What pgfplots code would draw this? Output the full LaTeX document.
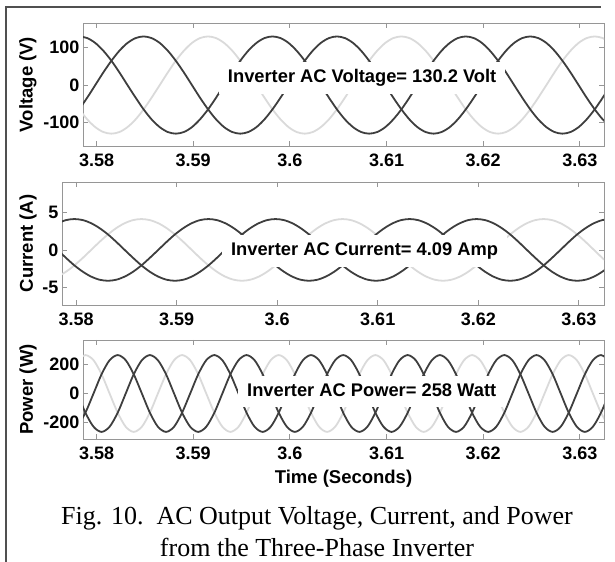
\documentclass[border=0pt]{standalone}
\usepackage{fontspec}
\setmainfont{Liberation Sans}
\newfontfamily\capfont{Liberation Serif}
\usepackage{pgfplots}
\pgfplotsset{compat=1.18}
\usepackage{pgfplotstable}

\definecolor{darkc}{RGB}{62,62,62}
\definecolor{lightc}{RGB}{218,218,218}
\definecolor{boxc}{RGB}{150,150,150}
\definecolor{framec}{RGB}{80,80,80}

% voltage: a, b dark; c light
\pgfplotstableread{
t a b c
3.57820 130 -65 -65
3.57904 125.6 -33.6 -91.9
3.57987 112.6 0 -112.6
3.58070 91.9 33.6 -125.6
3.58154 65 65 -130
3.58237 33.6 91.9 -125.6
3.58320 0 112.6 -112.6
3.58404 -33.6 125.6 -91.9
3.58487 -65 130 -65
3.58570 -91.9 125.6 -33.6
3.58654 -112.6 112.6 0
3.58737 -125.6 91.9 33.6
3.58820 -130 65 65
3.58904 -125.6 33.6 91.9
3.58987 -112.6 0 112.6
3.59070 -91.9 -33.6 125.6
3.59154 -65 -65 130
3.59237 -33.6 -91.9 125.6
3.59320 0 -112.6 112.6
3.59404 33.6 -125.6 91.9
3.59487 65 -130 65
3.59570 91.9 -125.6 33.6
3.59654 112.6 -112.6 0
3.59737 125.6 -91.9 -33.6
3.59820 130 -65 -65
3.59904 125.6 -33.6 -91.9
3.59987 112.6 0 -112.6
3.60070 91.9 33.6 -125.6
3.60154 65 65 -130
3.60237 33.6 91.9 -125.6
3.60320 0 112.6 -112.6
3.60404 -33.6 125.6 -91.9
3.60487 -65 130 -65
3.60570 -91.9 125.6 -33.6
3.60654 -112.6 112.6 0
3.60737 -125.6 91.9 33.6
3.60820 -130 65 65
3.60904 -125.6 33.6 91.9
3.60987 -112.6 0 112.6
3.61070 -91.9 -33.6 125.6
3.61154 -65 -65 130
3.61237 -33.6 -91.9 125.6
3.61320 0 -112.6 112.6
3.61404 33.6 -125.6 91.9
3.61487 65 -130 65
3.61570 91.9 -125.6 33.6
3.61654 112.6 -112.6 0
3.61737 125.6 -91.9 -33.6
3.61820 130 -65 -65
3.61904 125.6 -33.6 -91.9
3.61987 112.6 0 -112.6
3.62070 91.9 33.6 -125.6
3.62154 65 65 -130
3.62237 33.6 91.9 -125.6
3.62320 0 112.6 -112.6
3.62404 -33.6 125.6 -91.9
3.62487 -65 130 -65
3.62570 -91.9 125.6 -33.6
3.62654 -112.6 112.6 0
3.62737 -125.6 91.9 33.6
3.62820 -130 65 65
3.62904 -125.6 33.6 91.9
3.62987 -112.6 0 112.6
3.63070 -91.9 -33.6 125.6
3.63154 -65 -65 130
3.63237 -33.6 -91.9 125.6
3.63320 0 -112.6 112.6
}\voltdata

% current: a, c dark; b light
\pgfplotstableread{
t a b c
3.57817 3.54 -3.54 0
3.57900 3.95 -2.89 -1.06
3.57983 4.09 -2.05 -2.05
3.58067 3.95 -1.06 -2.89
3.58150 3.54 0 -3.54
3.58233 2.89 1.06 -3.95
3.58317 2.05 2.05 -4.09
3.58400 1.06 2.89 -3.95
3.58483 0 3.54 -3.54
3.58567 -1.06 3.95 -2.89
3.58650 -2.05 4.09 -2.05
3.58733 -2.89 3.95 -1.06
3.58817 -3.54 3.54 0
3.58900 -3.95 2.89 1.06
3.58983 -4.09 2.05 2.05
3.59067 -3.95 1.06 2.89
3.59150 -3.54 0 3.54
3.59233 -2.89 -1.06 3.95
3.59317 -2.05 -2.05 4.09
3.59400 -1.06 -2.89 3.95
3.59483 0 -3.54 3.54
3.59567 1.06 -3.95 2.89
3.59650 2.05 -4.09 2.05
3.59733 2.89 -3.95 1.06
3.59817 3.54 -3.54 0
3.59900 3.95 -2.89 -1.06
3.59983 4.09 -2.05 -2.05
3.60067 3.95 -1.06 -2.89
3.60150 3.54 0 -3.54
3.60233 2.89 1.06 -3.95
3.60317 2.05 2.05 -4.09
3.60400 1.06 2.89 -3.95
3.60483 0 3.54 -3.54
3.60567 -1.06 3.95 -2.89
3.60650 -2.05 4.09 -2.05
3.60733 -2.89 3.95 -1.06
3.60817 -3.54 3.54 0
3.60900 -3.95 2.89 1.06
3.60983 -4.09 2.05 2.05
3.61067 -3.95 1.06 2.89
3.61150 -3.54 0 3.54
3.61233 -2.89 -1.06 3.95
3.61317 -2.05 -2.05 4.09
3.61400 -1.06 -2.89 3.95
3.61483 0 -3.54 3.54
3.61567 1.06 -3.95 2.89
3.61650 2.05 -4.09 2.05
3.61733 2.89 -3.95 1.06
3.61817 3.54 -3.54 0
3.61900 3.95 -2.89 -1.06
3.61983 4.09 -2.05 -2.05
3.62067 3.95 -1.06 -2.89
3.62150 3.54 0 -3.54
3.62233 2.89 1.06 -3.95
3.62317 2.05 2.05 -4.09
3.62400 1.06 2.89 -3.95
3.62483 0 3.54 -3.54
3.62567 -1.06 3.95 -2.89
3.62650 -2.05 4.09 -2.05
3.62733 -2.89 3.95 -1.06
3.62817 -3.54 3.54 0
3.62900 -3.95 2.89 1.06
3.62983 -4.09 2.05 2.05
3.63067 -3.95 1.06 2.89
3.63150 -3.54 0 3.54
3.63233 -2.89 -1.06 3.95
3.63317 -2.05 -2.05 4.09
}\currdata

% power: a, c dark; b light
\pgfplotstableread{
t a b c
3.57802 0 229.5 -229.5
3.57885 -132.5 265 -132.5
3.57969 -229.5 229.5 0
3.58052 -265 132.5 132.5
3.58135 -229.5 0 229.5
3.58219 -132.5 -132.5 265
3.58302 0 -229.5 229.5
3.58385 132.5 -265 132.5
3.58469 229.5 -229.5 0
3.58552 265 -132.5 -132.5
3.58635 229.5 0 -229.5
3.58719 132.5 132.5 -265
3.58802 0 229.5 -229.5
3.58885 -132.5 265 -132.5
3.58969 -229.5 229.5 0
3.59052 -265 132.5 132.5
3.59135 -229.5 0 229.5
3.59219 -132.5 -132.5 265
3.59302 0 -229.5 229.5
3.59385 132.5 -265 132.5
3.59469 229.5 -229.5 0
3.59552 265 -132.5 -132.5
3.59635 229.5 0 -229.5
3.59719 132.5 132.5 -265
3.59802 0 229.5 -229.5
3.59885 -132.5 265 -132.5
3.59969 -229.5 229.5 0
3.60052 -265 132.5 132.5
3.60135 -229.5 0 229.5
3.60219 -132.5 -132.5 265
3.60302 0 -229.5 229.5
3.60385 132.5 -265 132.5
3.60469 229.5 -229.5 0
3.60552 265 -132.5 -132.5
3.60635 229.5 0 -229.5
3.60719 132.5 132.5 -265
3.60802 0 229.5 -229.5
3.60885 -132.5 265 -132.5
3.60969 -229.5 229.5 0
3.61052 -265 132.5 132.5
3.61135 -229.5 0 229.5
3.61219 -132.5 -132.5 265
3.61302 0 -229.5 229.5
3.61385 132.5 -265 132.5
3.61469 229.5 -229.5 0
3.61552 265 -132.5 -132.5
3.61635 229.5 0 -229.5
3.61719 132.5 132.5 -265
3.61802 0 229.5 -229.5
3.61885 -132.5 265 -132.5
3.61969 -229.5 229.5 0
3.62052 -265 132.5 132.5
3.62135 -229.5 0 229.5
3.62219 -132.5 -132.5 265
3.62302 0 -229.5 229.5
3.62385 132.5 -265 132.5
3.62469 229.5 -229.5 0
3.62552 265 -132.5 -132.5
3.62635 229.5 0 -229.5
3.62719 132.5 132.5 -265
3.62802 0 229.5 -229.5
3.62885 -132.5 265 -132.5
3.62969 -229.5 229.5 0
3.63052 -265 132.5 132.5
3.63135 -229.5 0 229.5
3.63219 -132.5 -132.5 265
3.63302 0 -229.5 229.5
}\powdata

\pgfplotsset{
  panel/.style={
    scale only axis,
    xmin=3.5786, xmax=3.6325,
    xtick={3.58,3.59,3.6,3.61,3.62,3.63},
    xticklabels={3.58,3.59,3.6,3.61,3.62,3.63},
    axis line style={boxc, line width=0.8bp},
    tick style={boxc, line width=0.8bp},
    major tick length=5bp,
    /pgf/number format/assume math mode=true,
    tick label style={font=\fontsize{18bp}{21bp}\selectfont\bfseries, black},
    xticklabel style={yshift=-4.5bp},
    label style={font=\fontsize{18.5bp}{22bp}\selectfont\bfseries},
    every axis plot/.append style={line width=1.8bp, smooth},
  },
}
\tikzset{
  note/.style={fill=white, inner xsep=9bp, inner ysep=7bp, text height=13.5bp, text depth=4bp,
    font=\fontsize{18.3bp}{22bp}\selectfont\bfseries},
}

\begin{document}
\begin{tikzpicture}
\useasboundingbox (0bp,0bp) rectangle (615bp,562bp);
\draw[framec, line width=2bp] (6bp,0bp) -- (6bp,555bp) -- (601bp,555bp);

% voltage
\begin{axis}[panel, at={(83bp,416bp)}, anchor=south west, width=521bp, height=123bp,
    ymin=-163, ymax=166, ytick={-100,0,100},
    ylabel={Voltage (V)},
    ylabel style={at={(axis description cs:-0.1056,0.5)}, anchor=center}]
\addplot[lightc] table[x=t, y=c] {\voltdata};
\addplot[darkc] table[x=t, y=a] {\voltdata};
\addplot[darkc] table[x=t, y=b] {\voltdata};
\node[note] at (axis cs:3.60748,19) {Inverter AC Voltage= 130.2 Volt};
\end{axis}

% current
\begin{axis}[panel, at={(62bp,257bp)}, anchor=south west, width=542bp, height=123bp,
    ymin=-7.3, ymax=9.0, ytick={-5,0,5},
    ylabel={Current (A)},
    ylabel style={at={(axis description cs:-0.0627,0.5)}, anchor=center}]
\addplot[lightc] table[x=t, y=b] {\currdata};
\addplot[darkc] table[x=t, y=a] {\currdata};
\addplot[darkc] table[x=t, y=c] {\currdata};
\node[note] at (axis cs:3.60869,-0.13) {Inverter AC Current= 4.09 Amp};
\end{axis}

% power
\begin{axis}[panel, at={(83bp,123bp)}, anchor=south west, width=521bp, height=99bp,
    ymin=-314, ymax=369, ytick={-200,0,200},
    ylabel={Power (W)},
    ylabel style={at={(axis description cs:-0.1056,0.5)}, anchor=center},
    xlabel={Time (Seconds)},
    xlabel style={at={(axis description cs:0.5,-0.404)}, anchor=center}]
\addplot[lightc] table[x=t, y=b] {\powdata};
\addplot[darkc] table[x=t, y=a] {\powdata};
\addplot[darkc] table[x=t, y=c] {\powdata};
\node[note] at (axis cs:3.60847,14) {Inverter AC Power= 258 Watt};
\end{axis}

\node[anchor=base, font=\capfont\fontsize{26bp}{32bp}\selectfont] at (317bp,38bp) {Fig. 10.\ \ AC Output Voltage, Current, and Power};
\node[anchor=base, font=\capfont\fontsize{26bp}{32bp}\selectfont] at (317bp,6bp) {from the Three-Phase Inverter};
\end{tikzpicture}
\end{document}
